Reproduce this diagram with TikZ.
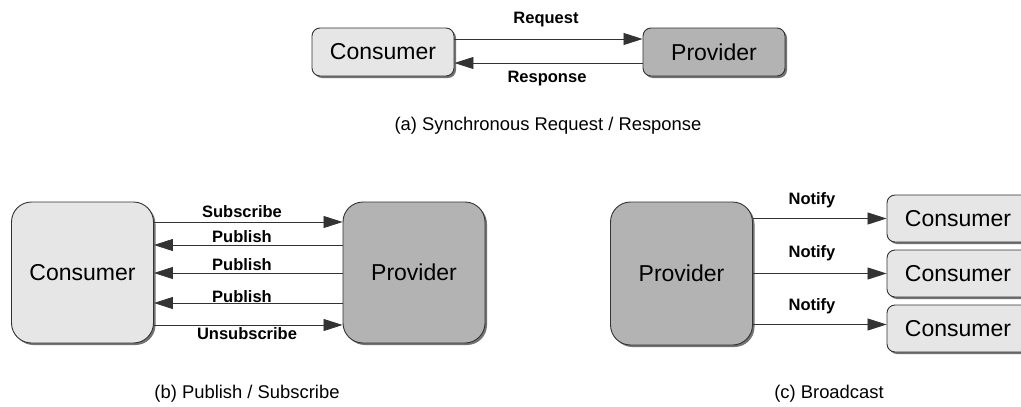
\documentclass[tikz,border=0pt]{standalone}
\usepackage{fontspec}
\setmainfont{Liberation Sans}
\usetikzlibrary{arrows.meta,shadows}
\definecolor{consfill}{HTML}{E6E6E6}
\definecolor{provfill}{HTML}{B3B3B3}
\definecolor{edgecol}{HTML}{333333}
\begin{document}
\begin{tikzpicture}[x=1pt,y=-1pt,
  box/.style={draw=edgecol,line width=0.9pt,
    drop shadow={shadow xshift=2pt,shadow yshift=-2pt,fill=black!55,opacity=1},
    inner sep=0pt,font=\fontsize{23}{26}\selectfont},
  cons/.style={box,fill=consfill},
  prov/.style={box,fill=provfill},
  smallbox/.style={minimum width=142pt,minimum height=48pt,rounded corners=8pt},
  bigbox/.style={minimum width=142pt,minimum height=141pt,rounded corners=20pt},
  msg/.style={draw=edgecol,line width=0.8pt,-{Triangle[length=19pt,width=12pt]}},
  lbl/.style={font=\fontsize{16.5}{18}\selectfont\bfseries,inner sep=0pt},
  captxt/.style={font=\fontsize{18.4}{21}\selectfont,inner sep=0pt}]
\useasboundingbox (0,0) rectangle (1021,407);
\fill[white] (0,0) rectangle (1021,407);

% (a)
\node[cons,smallbox] (ca) at (383,52) {Consumer};
\node[prov,smallbox] (pa) at (714,52) {Provider};
\draw[msg] ([yshift=13pt]ca.east) -- ([yshift=13pt]pa.west);
\draw[msg] ([yshift=-11pt]pa.west) -- ([yshift=-11pt]ca.east);
\node[lbl] (lreq) at (546,20) {Request};
\node[lbl] (lres) at (547,79) {Response};
\node[captxt] (capa) at (548,126) {(a) Synchronous Request / Response};

% (b)
\node[cons,bigbox] (cb) at (82.5,272.5) {Consumer};
\node[prov,bigbox] (pb) at (414,272.5) {Provider};
\draw[msg] ([yshift=50.5pt]cb.east) -- ([yshift=50.5pt]pb.west);
\draw[msg] ([yshift=27.5pt]pb.west) -- ([yshift=27.5pt]cb.east);
\draw[msg] ([yshift=-0.5pt]pb.west) -- ([yshift=-0.5pt]cb.east);
\draw[msg] ([yshift=-30.5pt]pb.west) -- ([yshift=-30.5pt]cb.east);
\draw[msg] ([yshift=-52.5pt]cb.east) -- ([yshift=-52.5pt]pb.west);
\node[lbl] (lsub) at (242,212) {Subscribe};
\node[lbl] (lp1) at (242,237) {Publish};
\node[lbl] (lp2) at (242,265) {Publish};
\node[lbl] (lp3) at (242,297) {Publish};
\node[lbl] (lunsub) at (247,334) {Unsubscribe};
\node[captxt] (capb) at (247,394) {(b) Publish / Subscribe};

% (c)
\node[prov,bigbox,minimum height=143pt] (pc) at (681.5,273.5) {Provider};
\node[cons,smallbox,minimum height=47pt] (c1) at (958,218.5) {Consumer};
\node[cons,smallbox,minimum height=47pt] (c2) at (958,273.5) {Consumer};
\node[cons,smallbox,minimum height=47pt] (c3) at (958,328.5) {Consumer};
\draw[msg] (pc.east |- c1.west) -- (c1.west);
\draw[msg] (pc.east |- c2.west) -- (c2.west);
\draw[msg] ([yshift=-51pt]pc.east) -- ([yshift=-51pt]pc.east -| c3.west);
\node[lbl] (ln1) at (812,200) {Notify};
\node[lbl] (ln2) at (812,253) {Notify};
\node[lbl] (ln3) at (812,306) {Notify};
\node[captxt] (capc) at (829,394) {(c) Broadcast};
\end{tikzpicture}
\end{document}
